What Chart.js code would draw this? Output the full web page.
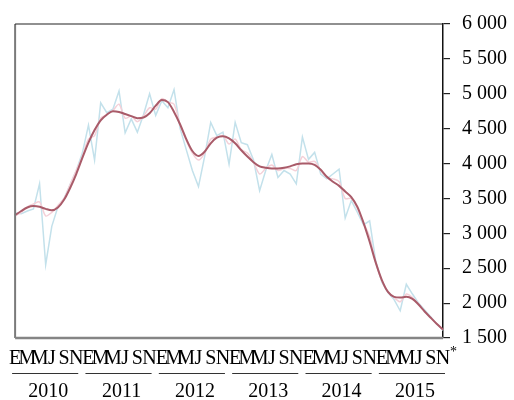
<!DOCTYPE html>
<html>
<head>
<meta charset="utf-8">
<script src="https://cdn.jsdelivr.net/npm/chart.js@4.4.1/dist/chart.umd.min.js"></script>
<style>
  html, body { margin: 0; padding: 0; background: #ffffff; }
  #wrap { width: 514px; height: 400px; }
</style>
</head>
<body>
<div id="wrap"><canvas id="c" width="514" height="400"></canvas></div>
<script>
// ---- data ----
const monthInitials = ['E','F','M','A','M','J','J','A','S','O','N','D'];
const years = ['2010','2011','2012','2013','2014','2015'];
const lastMonthIndex = 10; // Nov 2015 (provisional, marked with *)
const yTicks = [1500, 2000, 2500, 3000, 3500, 4000, 4500, 5000, 5500, 6000];

const rawValues = [
  3290, 3280, 3320, 3350, 3710, 2550, 3100, 3380, 3500, 3700, 3900, 4150,
  4550, 4050, 4870, 4730, 4780, 5040, 4440, 4640, 4450, 4700, 5000, 4690,
  4900, 4800, 5060, 4500, 4200, 3900, 3670, 4100, 4590, 4400, 4450, 3990,
  4590, 4300, 4270, 4050, 3610, 3900, 4130, 3800, 3900, 3850, 3710, 4380,
  4060, 4160, 3850, 3780, 3850, 3920, 3220, 3470, 3300, 3120, 3180, 2600,
  2300, 2150, 2050, 1890, 2270, 2130, 2000, 1900, 1800, 1700, 1610
];
const adjustedValues = [
  3250, 3300, 3380, 3420, 3450, 3250, 3300, 3400, 3500, 3700, 3900, 4100,
  4350, 4400, 4650, 4700, 4760, 4850, 4650, 4680, 4600, 4680, 4800, 4780,
  4930, 4880, 4850, 4550, 4330, 4150, 4050, 4150, 4350, 4380, 4400, 4280,
  4350, 4200, 4150, 4020, 3850, 3930, 3980, 3900, 3930, 3930, 3900, 4100,
  4020, 4030, 3900, 3800, 3780, 3740, 3500, 3500, 3350, 3150, 2950, 2580,
  2320, 2160, 2080, 2020, 2130, 2080, 1990, 1880, 1790, 1700, 1620
];
const trendValues = [
  3260, 3320, 3370, 3390, 3380, 3350, 3330, 3370, 3480, 3650, 3850, 4080,
  4300, 4480, 4620, 4700, 4750, 4740, 4710, 4680, 4650, 4660, 4720, 4830,
  4910, 4880, 4740, 4560, 4350, 4180, 4110, 4170, 4290, 4370, 4390, 4360,
  4290, 4190, 4100, 4020, 3960, 3940, 3930, 3930, 3940, 3960, 3990, 4000,
  4000, 3980, 3910, 3810, 3740, 3680, 3600, 3520, 3380, 3150, 2880, 2580,
  2330, 2160, 2090, 2080, 2090, 2060, 1980, 1880, 1790, 1700, 1620
];

// categories: one per month
const categories = [];
years.forEach((y, yi) => {
  monthInitials.forEach((m, mi) => {
    if (yi === years.length - 1 && mi > lastMonthIndex) return;
    categories.push(m + ' ' + y);
  });
});

const FONT = '"Liberation Serif", "Times New Roman", "DejaVu Serif", serif';

function fmt(v) {
  return String(v).replace(/\B(?=(\d{3})+(?!\d))/g, ' ');
}

const framePlugin = {
  id: 'frame',
  afterDatasetsDraw(chart) {
    const { ctx, chartArea: a } = chart;
    ctx.save();
    ctx.strokeStyle = '#7a7a7a';
    ctx.lineWidth = 2;
    ctx.beginPath(); ctx.moveTo(a.left, a.top); ctx.lineTo(a.left, a.bottom); ctx.stroke();
    ctx.strokeStyle = '#858585';
    ctx.lineWidth = 2.5;
    ctx.beginPath(); ctx.moveTo(a.left, a.bottom); ctx.lineTo(a.right, a.bottom); ctx.stroke();
    ctx.strokeStyle = '#222';
    ctx.lineWidth = 1.2;
    ctx.beginPath(); ctx.moveTo(a.left, a.top); ctx.lineTo(a.right, a.top); ctx.stroke();
    ctx.restore();
  },
  afterDraw(chart) {
    const { ctx } = chart;
    const xs = chart.scales.x;
    ctx.save();
    ctx.fillStyle = '#000';
    ctx.strokeStyle = '#333';
    ctx.lineWidth = 1;
    ctx.font = '20px ' + FONT;
    ctx.textAlign = 'center';
    ctx.textBaseline = 'alphabetic';
    years.forEach((y, yi) => {
      const first = yi * 12;
      const last = Math.min(first + 10, categories.length - 1);
      const x0 = xs.getPixelForValue(first) - 3;
      const x1 = xs.getPixelForValue(last) + 2;
      ctx.beginPath();
      ctx.moveTo(x0, 373.5);
      ctx.lineTo(x1, 373.5);
      ctx.stroke();
      ctx.fillText(y, (x0 + x1) / 2 + 3, 397);
    });
    const xl = xs.getPixelForValue(categories.length - 1);
    ctx.font = '14px ' + FONT;
    ctx.textAlign = 'left';
    ctx.fillText('*', xl + 7, 356);
    ctx.restore();
  }
};

new Chart(document.getElementById('c'), {
  type: 'line',
  data: {
    labels: categories,
    datasets: [
      {
        label: 'Serie original',
        data: rawValues,
        borderColor: '#c3e1eb',
        borderWidth: 1.5,
        pointRadius: 0,
        tension: 0,
        order: 3
      },
      {
        label: 'Serie desestacionalizada',
        data: adjustedValues,
        borderColor: '#f4d0d8',
        borderWidth: 1.5,
        pointRadius: 0,
        tension: 0.3,
        order: 2
      },
      {
        label: 'Tendencia',
        data: trendValues,
        borderColor: '#a95b69',
        borderWidth: 2,
        pointRadius: 0,
        cubicInterpolationMode: 'monotone',
        order: 1
      }
    ]
  },
  options: {
    responsive: false,
    animation: false,
    devicePixelRatio: 1,
    layout: { padding: { left: 15, top: 16, right: 0, bottom: 0 } },
    plugins: {
      legend: { display: false },
      tooltip: { enabled: false },
      title: { display: false }
    },
    scales: {
      x: {
        type: 'category',
        offset: false,
        grid: { display: false, drawTicks: false },
        border: { display: false },
        ticks: {
          autoSkip: false,
          maxRotation: 0,
          minRotation: 0,
          padding: 9,
          color: '#000',
          font: { family: FONT, size: 20 },
          callback: function (val, index) {
            return index % 2 === 0 ? monthInitials[index % 12] : '';
          }
        },
        afterFit(scale) { scale.height = 62; }
      },
      y: {
        position: 'right',
        min: 1500,
        max: 6000,
        afterBuildTicks(scale) { scale.ticks = yTicks.map(v => ({ value: v })); },
        grid: {
          drawOnChartArea: false,
          drawTicks: true,
          tickLength: 7,
          color: '#222',
          lineWidth: 1.2
        },
        border: { display: true, color: '#111', width: 1.5 },
        ticks: {
          padding: 12,
          color: '#000',
          font: { family: FONT, size: 20 },
          callback: v => fmt(v)
        },
        afterFit(scale) { scale.width = 71; }
      }
    }
  },
  plugins: [framePlugin]
});
</script>
</body>
</html>
